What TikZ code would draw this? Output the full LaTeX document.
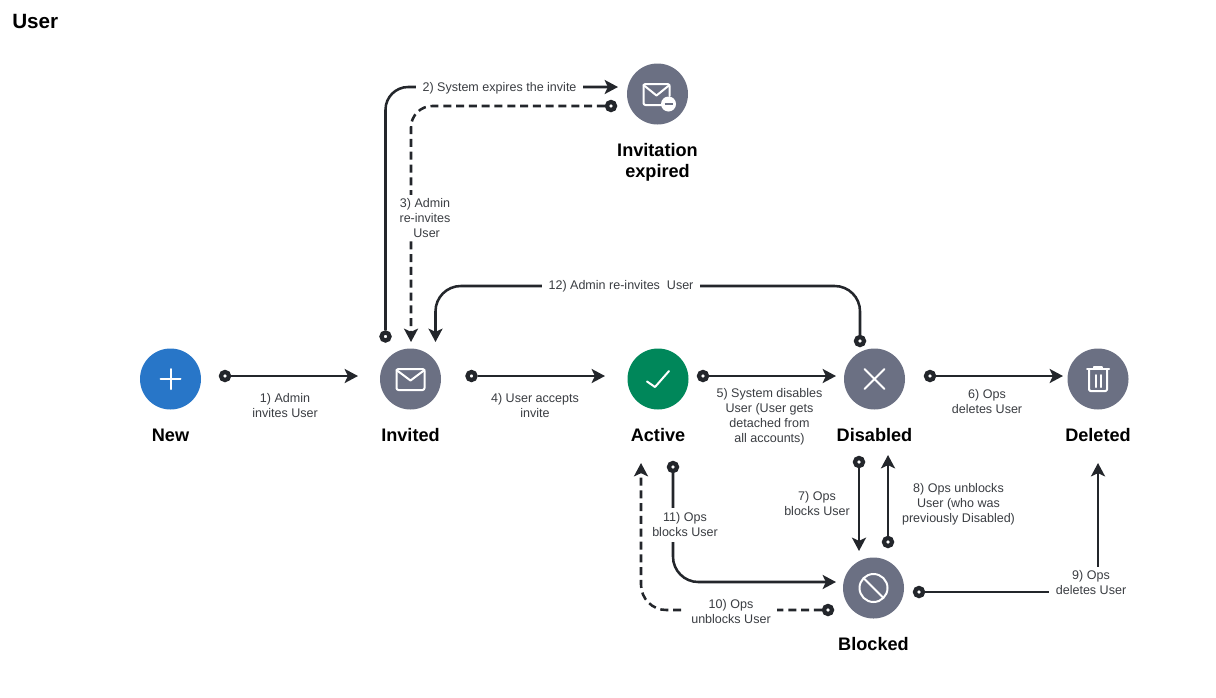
\documentclass[tikz,border=0pt]{standalone}
\usepackage{fontspec}
\setmainfont{Liberation Sans}
\usetikzlibrary{arrows.meta}
\definecolor{ink}{HTML}{23262B}
\definecolor{txt}{HTML}{3A3D42}
\definecolor{slate}{HTML}{6B7083}
\definecolor{bluest}{HTML}{2876C8}
\definecolor{greenst}{HTML}{00875A}
\tikzset{
  every node/.style={font=\fontsize{9.4}{11.25}\selectfont},
  state/.style={circle,minimum size=45.75pt,inner sep=0pt,fill=slate},
  title/.style={font=\fontsize{13.6}{15.8}\selectfont\bfseries,text=black,align=center,inner sep=0pt},
  dotnode/.style={circle,draw=ink,line width=3.2pt,fill=white,minimum size=6pt,inner sep=0pt},
  lab/.style={fill=white,text=txt,align=center,inner xsep=5pt,inner ysep=2.6pt},
  flow/.style={draw=ink,line width=1.9pt,-{Stealth[length=10pt,width=10.5pt,inset=2.4pt]}},
  dashflow/.style={flow,dash pattern=on 6pt off 3.6pt},
  icon/.style={draw=white,line width=1.5pt,line cap=round,line join=round}
}
\begin{document}
\begin{tikzpicture}[x=0.75pt,y=-0.75pt]
\useasboundingbox (0,0) rectangle (1216,697);
\node[anchor=west,inner sep=0pt,font=\fontsize{15.5}{18}\selectfont\bfseries] (head) at (12,21.5) {User};
% states
\node[state,fill=bluest] (new) at (170.5,379) {};
\node[state] (invited) at (410.5,379) {};
\node[state,fill=greenst] (active) at (658,379) {};
\node[state] (disabled) at (874.5,379) {};
\node[state] (deleted) at (1098,379) {};
\node[state] (blocked) at (873.5,588) {};
\node[state] (expired) at (657.5,94) {};
% titles
\node[title] (tnew) at (170.5,435) {New};
\node[title] (tinvited) at (410.5,435) {Invited};
\node[title] (tactive) at (658,435) {Active};
\node[title] (tdisabled) at (874.5,435) {Disabled};
\node[title] (tdeleted) at (1098,435) {Deleted};
\node[title] (tblocked) at (873.5,644) {Blocked};
\node[title] (texpired) at (657.5,162) {Invitation\\[0.2pt]expired};
% dots
\foreach \n/\x/\y in {d1/225/376,d4/471.5/376,d5/703/376,d6/930/376,d2/385.5/336.5,d12/860/341,d11/673/467,d7/859/462,d8/888/542,d9/919/592,d10/828/610,d3/611/106}
  \node[dotnode] (\n) at (\x,\y) {};
% free ends
\coordinate (e1) at (358,376);
\coordinate (e4) at (605,376);
\coordinate (e5) at (836,376);
\coordinate (e6) at (1063,376);
\coordinate (e2) at (618,87);
\coordinate (e3) at (411,342);
\coordinate (e12) at (435.5,342);
\coordinate (e7) at (859,551);
\coordinate (e8) at (888,455);
\coordinate (e11) at (836,582);
\coordinate (e9) at (1098,463);
\coordinate (e10) at (641,463);
% connectors
\draw[flow] (d1) -- (e1);
\draw[flow] (d4) -- (e4);
\draw[flow] (d5) -- (e5);
\draw[flow] (d6) -- (e6);
\draw[flow] (d7) -- (e7);
\draw[flow] (d8) -- (e8);
\draw[flow,rounded corners=17pt] (d2) -- (385.5,87) -- (e2);
\draw[dashflow,rounded corners=16pt] (d3) -- (411,106) -- (e3);
\draw[flow,rounded corners=19pt] (d12) -- (860,286) -- (435.5,286) -- (e12);
\draw[flow,rounded corners=19pt] (d11) -- (673,582) -- (e11);
\draw[dashflow,rounded corners=19pt] (d10) -- (641,610) -- (e10);
\draw[flow] (d9) -- (1098,592) -- (e9);
% labels
\node[lab] (l1) at (285,405.5) {1) Admin\\invites User};
\node[lab] (l2) at (499.5,88) {2) System expires the invite};
\node[lab] (l3) at (425,218) {3) Admin\\re-invites\\\hspace{2.5pt}User};
\node[lab] (l4) at (535,405.5) {4) User accepts\\invite};
\node[lab] (l5) at (769.5,416.5) {5) System disables\\User (User gets\\detached from\\all accounts)};
\node[lab] (l6) at (987,401.5) {6) Ops\\deletes User};
\node[lab] (l7) at (817,503.5) {7) Ops\\blocks User};
\node[lab] (l8) at (958.5,504) {8) Ops unblocks\\User (who was\\previously Disabled)};
\node[lab] (l9) at (1091,583) {9) Ops\\deletes User};
\node[lab] (l10) at (731,612) {10) Ops\\unblocks User};
\node[lab,inner ysep=3.6pt] (l11) at (685,525) {11) Ops\\blocks User};
\node[lab] (l12) at (621,286) {12) Admin re-invites\ \ User};
% icons
\begin{scope}[shift={(new.center)}]
  \draw[icon] (-10,0) -- (10,0) (0,-10) -- (0,10);
\end{scope}
\begin{scope}[shift={(invited.center)}]
  \draw[icon,rounded corners=1.5pt] (-14,-10) rectangle (14,11);
  \draw[icon] (-14,-9) -- (0,1.5) -- (14,-9);
\end{scope}
\begin{scope}[shift={(expired.center)}]
  \draw[icon,rounded corners=1.5pt] (6,11) -- (-14,11) -- (-14,-10) -- (12,-10) -- (12,2);
  \draw[icon] (-14,-9) -- (-1,1.5) -- (12,-9);
  \fill[white] (11,10) circle[radius=7.5];
  \draw[draw=slate,line width=1.5pt] (7,10) -- (15,10);
\end{scope}
\begin{scope}[shift={(active.center)}]
  \draw[icon] (-11,2.5) -- (-3,8) -- (11,-8);
\end{scope}
\begin{scope}[shift={(disabled.center)}]
  \draw[icon] (-10,-10) -- (10,10) (-10,10) -- (10,-10);
\end{scope}
\begin{scope}[shift={(deleted.center)}]
  \draw[icon] (-11,-10) -- (11,-10);
  \draw[icon] (-4,-10) -- (-4,-12) -- (4,-12) -- (4,-10);
  \draw[icon,rounded corners=1pt] (-9,-10) -- (-9,12) -- (9,12) -- (9,-10);
  \draw[icon] (-2.5,-4) -- (-2.5,8) (2.5,-4) -- (2.5,8);
\end{scope}
\begin{scope}[shift={(blocked.center)}]
  \draw[icon] (0,0) circle[radius=14];
  \draw[icon] (-10,-10) -- (10,10);
\end{scope}
\end{tikzpicture}
\end{document}
